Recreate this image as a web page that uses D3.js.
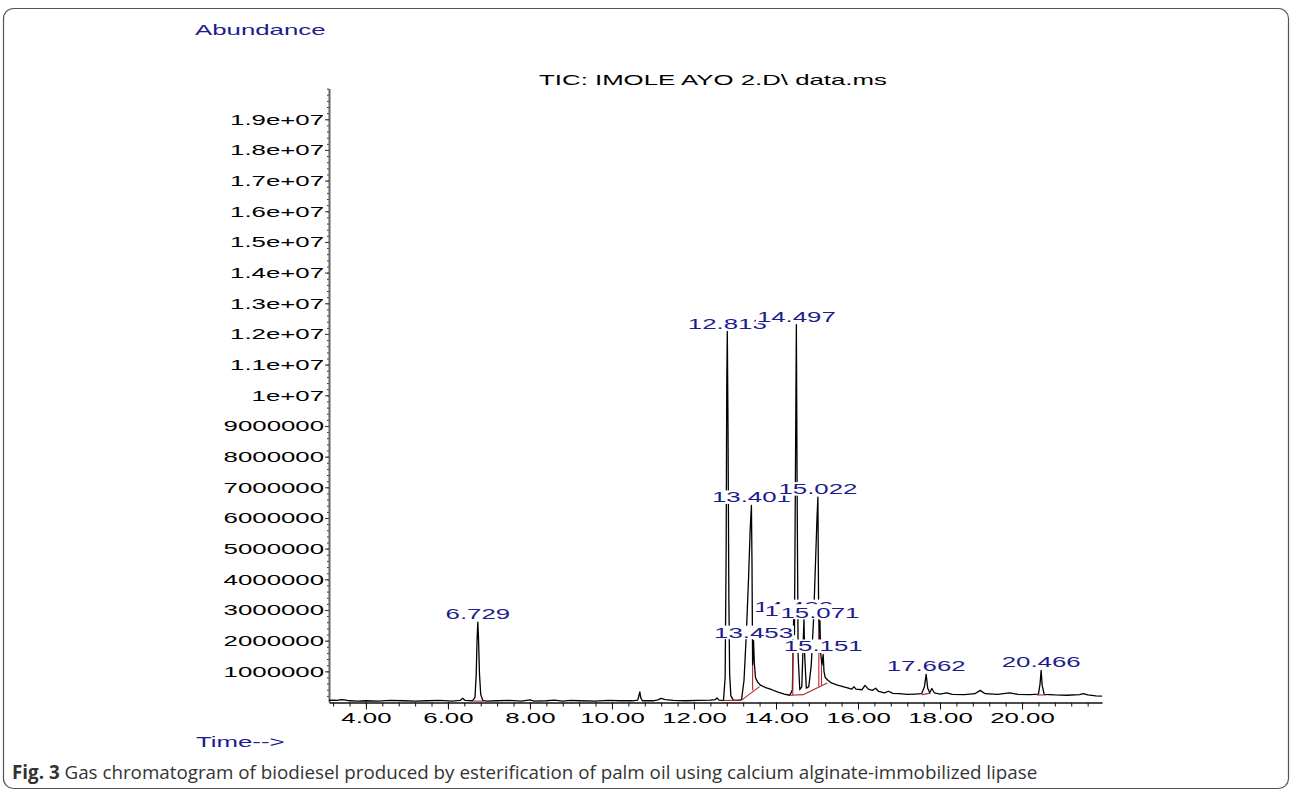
<!DOCTYPE html>
<html>
<head>
<meta charset="utf-8">
<script src="https://cdn.jsdelivr.net/npm/d3@7/dist/d3.min.js"></script>
<style>
  html, body { margin: 0; padding: 0; background: #fff; }
  svg { display: block; }
</style>
</head>
<body>
<script>
// ---------------- DATA ----------------
// retention time (min)
const time = [
  3.10, 3.20, 3.30, 3.40, 3.48, 3.60, 3.80, 4.00, 4.30, 4.60, 4.90, 5.20, 5.50, 5.80, 6.10, 6.30, 6.36, 6.42, 6.60,
  6.66, 6.69, 6.71, 6.729, 6.745, 6.77, 6.80, 6.85, 6.95, 7.20, 7.50, 7.80, 8.00, 8.10, 8.40, 8.60, 8.80, 9.00,
  9.20, 9.60, 9.90, 10.20, 10.50, 10.63, 10.665, 10.68, 10.70, 10.74, 11.00, 11.12, 11.20, 11.30, 11.50, 11.80,
  12.10, 12.40, 12.52, 12.56, 12.61, 12.72, 12.76, 12.785, 12.80, 12.813, 12.83, 12.85, 12.87, 12.90, 12.96,
  13.10, 13.16, 13.22, 13.28, 13.33, 13.37, 13.401, 13.415, 13.43, 13.453, 13.47, 13.50, 13.55, 13.62, 13.75,
  13.90, 14.05, 14.20, 14.34, 14.40, 14.432, 14.45, 14.47, 14.497, 14.515, 14.54, 14.58, 14.63, 14.66, 14.682,
  14.70, 14.74, 14.80, 14.86, 14.92, 14.97, 15.00, 15.022, 15.04, 15.055, 15.071, 15.09, 15.12, 15.151, 15.17,
  15.20, 15.26, 15.35, 15.50, 15.70, 15.85, 15.90, 15.95, 16.10, 16.17, 16.25, 16.35, 16.43, 16.50, 16.65, 16.74,
  16.85, 17.00, 17.20, 17.40, 17.55, 17.62, 17.662, 17.70, 17.75, 17.80, 17.86, 18.00, 18.16, 18.30, 18.60,
  18.85, 18.98, 19.10, 19.40, 19.70, 19.90, 20.20, 20.40, 20.44, 20.466, 20.49, 20.54, 20.80, 21.10, 21.40,
  21.50, 21.60, 21.80, 21.95
];
// abundance (millions of counts)
const abundanceM = [
  0.05, 0.06, 0.05, 0.08, 0.07, 0.04, 0.03, 0.04, 0.03, 0.05, 0.04, 0.03, 0.04, 0.05, 0.03, 0.05, 0.12, 0.05, 0.04,
  0.15, 0.9, 2.0, 2.6, 2.1, 0.9, 0.25, 0.05, 0.03, 0.04, 0.05, 0.03, 0.07, 0.03, 0.04, 0.06, 0.03, 0.05,
  0.04, 0.03, 0.05, 0.04, 0.04, 0.06, 0.25, 0.33, 0.15, 0.04, 0.04, 0.07, 0.12, 0.08, 0.05, 0.04,
  0.05, 0.06, 0.08, 0.13, 0.06, 0.05, 0.8, 5.0, 10.5, 12.08, 9.0, 3.5, 0.9, 0.2, 0.06,
  0.05, 0.08, 0.7, 2.3, 4.0, 5.6, 6.41, 4.5, 1.2, 2.0, 1.3, 0.8, 0.65, 0.55, 0.47,
  0.40, 0.32, 0.26, 0.22, 0.4, 2.85, 2.2, 6.5, 12.3, 7.0, 1.5, 0.4, 0.5, 1.8, 2.7,
  1.5, 0.45, 0.5, 1.2, 2.8, 4.8, 6.0, 6.68, 3.0, 2.0, 2.65, 1.6, 1.2, 1.55, 1.0,
  0.8, 0.72, 0.62, 0.55, 0.48, 0.42, 0.5, 0.42, 0.4, 0.54, 0.42, 0.38, 0.45, 0.35, 0.3, 0.35,
  0.28, 0.27, 0.25, 0.26, 0.27, 0.5, 0.9, 0.45, 0.3, 0.44, 0.3, 0.26, 0.3, 0.25, 0.24,
  0.27, 0.38, 0.27, 0.25, 0.3, 0.25, 0.24, 0.26, 0.6, 1.03, 0.55, 0.25, 0.23, 0.22, 0.24,
  0.27, 0.23, 0.20, 0.19
];

// labelled peaks (drawn in this order; later labels cover earlier ones)
const labelTimes   = [12.813, 14.497, 13.401, 15.022, 14.432, 14.682, 15.071, 13.453, 15.151, 6.729, 17.662, 20.466];
const labelHeightM = [12.08, 12.3, 6.41, 6.68, 2.85, 2.7, 2.65, 2.0, 1.55, 2.6, 0.9, 1.03];

// integration baselines [t1, v1(M), t2, v2(M)]
const baselineSegs = [
  [6.62, 0.03, 6.88, 0.03],
  [12.72, 0.05, 13.16, 0.06],
  [13.16, 0.06, 13.60, 0.50],
  [14.36, 0.22, 14.66, 0.24],
  [14.66, 0.24, 15.25, 0.62],
  [17.56, 0.24, 17.77, 0.29],
  [20.36, 0.23, 20.58, 0.23]
];
// drop lines [t, bottom(M), top(M)]
const dropLines = [
  [13.43, 0.38, 1.2],
  [14.41, 0.22, 2.2],
  [15.045, 0.50, 2.3],
  [15.11, 0.55, 1.2]
];

// axis ticks
const xMajorTicks = [4, 6, 8, 10, 12, 14, 16, 18, 20];
const xTickLabels = ["4.00", "6.00", "8.00", "10.00", "12.00", "14.00", "16.00", "18.00", "20.00"];
const yMajorTicks = [1e6, 2e6, 3e6, 4e6, 5e6, 6e6, 7e6, 8e6, 9e6, 1e7, 1.1e7, 1.2e7, 1.3e7, 1.4e7, 1.5e7, 1.6e7, 1.7e7, 1.8e7, 1.9e7];
const yTickLabels = ["1000000", "2000000", "3000000", "4000000", "5000000", "6000000", "7000000", "8000000", "9000000",
  "1e+07", "1.1e+07", "1.2e+07", "1.3e+07", "1.4e+07", "1.5e+07", "1.6e+07", "1.7e+07", "1.8e+07", "1.9e+07"];

// ---------------- DRAW ----------------
const W = 1292, H = 793;
const SX = 1.72;               // horizontal stretch of the chart's lettering
const FONT = "'Liberation Sans', Arial, sans-serif";
const NAVY = "#1c1c8e";

const svg = d3.select("body").append("svg").attr("width", W).attr("height", H);

// frame
svg.append("rect").attr("x", 3.5).attr("y", 8.5).attr("width", 1285).attr("height", 780)
  .attr("rx", 10).attr("fill", "none").attr("stroke", "#555").attr("stroke-width", 1.2);

const x = d3.scaleLinear().domain([3.1, 21.95]).range([329, 1102]);
const y = d3.scaleLinear().domain([0, 2e7]).range([702, 88.6]);

function stretchedText(parent, px, py, str, anchor, color, size) {
  const g = parent.append("g").attr("transform", `translate(${px},${py})`);
  const t = g.append("text").attr("transform", `scale(${SX},1)`)
    .attr("text-anchor", anchor).attr("fill", color)
    .style("font-family", FONT).style("font-size", (size || 15) + "px").text(str);
  return {g, t};
}

// Y axis minor
const yMinor = svg.append("g").attr("transform", "translate(329,0)")
  .call(d3.axisLeft(y).tickValues(d3.range(2e5, 2.0001e7, 2e5)).tickSize(2).tickSizeOuter(0).tickFormat(""));
yMinor.select(".domain").remove();
yMinor.selectAll("line").attr("stroke", "#333");

// Y axis major
const yAx = svg.append("g").attr("transform", "translate(329,0)")
  .call(d3.axisLeft(y).tickValues(yMajorTicks).tickSize(4).tickSizeOuter(0).tickPadding(1)
    .tickFormat((d, i) => yTickLabels[i]));
yAx.select(".domain").attr("stroke", "#666").attr("stroke-width", 2);
yAx.selectAll("line").attr("stroke", "#333");
yAx.selectAll("text")
  .style("font-family", FONT).style("font-size", "15px").attr("fill", "#000")
  .attr("x", -5 / SX).attr("transform", `scale(${SX},1)`);

// X axis minor
const xMinor = svg.append("g").attr("transform", "translate(0,702.5)")
  .call(d3.axisBottom(x).tickValues(d3.range(3.2, 21.7, 0.4)).tickSize(4).tickSizeOuter(0).tickFormat(""));
xMinor.select(".domain").remove();
xMinor.selectAll("line").attr("stroke", "#111");

// X axis major
const xAx = svg.append("g").attr("transform", "translate(0,702.5)")
  .call(d3.axisBottom(x).tickValues(xMajorTicks).tickSize(7).tickSizeOuter(0).tickPadding(3)
    .tickFormat((d, i) => xTickLabels[i]));
xAx.select(".domain").attr("stroke", "#111").attr("stroke-width", 1.6);
xAx.selectAll("line").attr("stroke", "#111");
xAx.selectAll("text")
  .style("font-family", FONT).style("font-size", "15px").attr("fill", "#000")
  .attr("transform", `scale(${SX},1)`).attr("x", 0);

// chromatogram trace
const pts = time.map((t, i) => [t, abundanceM[i] * 1e6]);
svg.append("path").datum(pts)
  .attr("fill", "none").attr("stroke", "#000").attr("stroke-width", 1.3).attr("stroke-linejoin", "round")
  .attr("d", d3.line().x(d => x(d[0])).y(d => y(d[1])));

// integration baselines + drop lines
const RED = "#b3262a";
svg.append("g").selectAll("line").data(baselineSegs).join("line")
  .attr("x1", d => x(d[0])).attr("y1", d => y(d[1] * 1e6))
  .attr("x2", d => x(d[2])).attr("y2", d => y(d[3] * 1e6))
  .attr("stroke", RED).attr("stroke-width", 1.1);
svg.append("g").selectAll("line").data(dropLines).join("line")
  .attr("x1", d => x(d[0])).attr("y1", d => y(d[1] * 1e6))
  .attr("x2", d => x(d[0])).attr("y2", d => y(d[2] * 1e6))
  .attr("stroke", RED).attr("stroke-width", 1.1);

// peak labels with white backing
labelTimes.forEach((t, i) => {
  const px = x(t), py = y(labelHeightM[i] * 1e6) - 3;
  const g = svg.append("g").attr("transform", `translate(${px},${py})`);
  const rect = g.append("rect").attr("fill", "#fff");
  const txt = g.append("text").attr("transform", `scale(${SX},1)`)
    .attr("text-anchor", "middle").attr("fill", NAVY)
    .style("font-family", FONT).style("font-size", "15px").text(t.toFixed(3));
  const w = txt.node().getComputedTextLength() * SX;
  rect.attr("x", -w / 2 - 1).attr("y", -12).attr("width", w + 2).attr("height", 13.5);
});

// titles
stretchedText(svg, 195, 35, "Abundance", "start", NAVY, 15);
stretchedText(svg, 713, 85, "TIC: IMOLE AYO 2.D\\ data.ms", "middle", "#000", 15);
stretchedText(svg, 196, 747, "Time-->", "start", NAVY, 15);

// caption
const cap = svg.append("text").attr("x", 12).attr("y", 779)
  .style("font-family", "'Open Sans', 'Noto Sans', sans-serif").style("font-size", "18.8px").attr("fill", "#333");
cap.append("tspan").style("font-weight", "bold").text("Fig. 3");
cap.append("tspan").text(" Gas chromatogram of biodiesel produced by esterification of palm oil using calcium alginate-immobilized lipase");
</script>
</body>
</html>
